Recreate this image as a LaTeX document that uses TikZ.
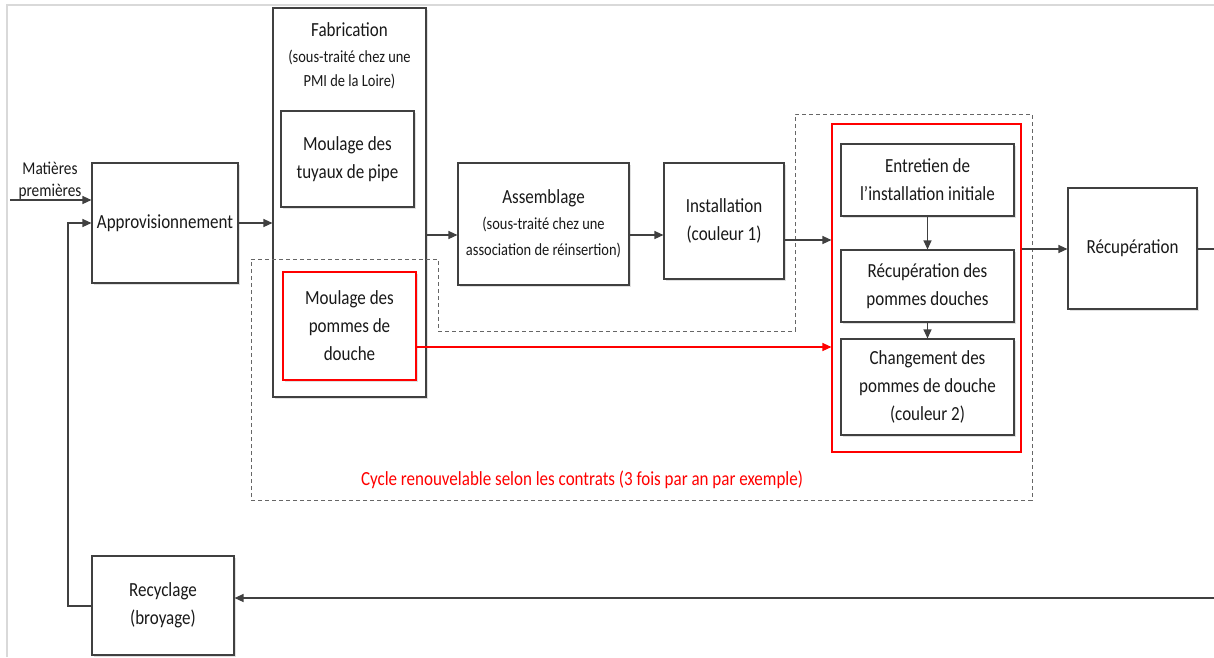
\documentclass[tikz,border=0pt]{standalone}
\usepackage{fontspec}
\setmainfont{Carlito}[FakeStretch=0.85]
\usetikzlibrary{arrows.meta,calc,shadows}
\definecolor{ln}{HTML}{404040}
\definecolor{rd}{HTML}{FF0000}
\tikzset{
  box/.style={draw=ln, line width=1.1pt, fill=white, align=center, inner sep=0pt,
     font=\fontsize{20}{28}\selectfont, text=black!90,
     drop shadow={shadow xshift=2pt, shadow yshift=-2pt, fill=black!12, opacity=1}},
  redbox/.style={draw=rd, line width=1.1pt, inner sep=0pt},
  arr/.style={draw=ln, line width=1.2pt, -{Triangle[length=9pt,width=8pt]}},
  rarr/.style={draw=rd, line width=1.2pt, -{Triangle[length=9pt,width=8pt]}},
  plain/.style={draw=ln, line width=1.2pt},
  dashline/.style={draw=ln!80, line width=0.9pt, dash pattern=on 4pt off 3pt},
  small/.style={font=\fontsize{17}{24}\selectfont, align=center, text=black!90},
}
\begin{document}
\begin{tikzpicture}[x=1pt,y=-1pt]
\useasboundingbox (0,0) rectangle (1214,657);
% faint frame
\draw[gray!30, line width=1.5pt] (7,657) -- (7,5) -- (1214,5);

% boxes
\node[box, minimum width=146pt, minimum height=120pt] (appro) at (165,223) {Approvisionnement};
\node[box, minimum width=153pt, minimum height=389pt] (fab) at (349.5,202.5) {};
\node[font=\fontsize{20}{28}\selectfont, text=black!90] (fabt) at (349.5,30) {Fabrication};
\node[small] (fabs) at (349.5,69) {(sous-trait\'e chez une\\PMI de la Loire)};
\node[box, minimum width=133pt, minimum height=96pt] (tuy) at (347.5,159) {Moulage des\\tuyaux de pipe};
\node[box, draw=rd, minimum width=133pt, minimum height=108pt] (pom) at (349.5,326) {Moulage des\\pommes de\\douche};
\node[box, minimum width=171pt, minimum height=122pt, font=\fontsize{17}{26}\selectfont] (ass) at (543.5,224)
  {{\fontsize{20}{26}\selectfont Assemblage}\\(sous-trait\'e chez une\\association de r\'einsertion)};
\node[box, minimum width=120pt, minimum height=116pt] (ins) at (724,221) {Installation\\(couleur 1)};
\node[redbox, minimum width=189pt, minimum height=328pt] (cyc) at (926.5,288) {};
\node[box, minimum width=173pt, minimum height=72pt] (ent) at (927.5,180) {Entretien de\\l’installation initiale};
\node[box, minimum width=173pt, minimum height=72pt] (rec2) at (927.5,286) {R\'ecup\'eration des\\pommes douches};
\node[box, minimum width=173pt, minimum height=96pt] (chg) at (927.5,387) {Changement des\\pommes de douche\\(couleur 2)};
\node[box, minimum width=129pt, minimum height=121pt] (rec) at (1132.5,248.5) {R\'ecup\'eration};
\node[box, minimum width=142pt, minimum height=99pt] (recy) at (163,605.5) {Recyclage\\(broyage)};

\node[font=\fontsize{18}{22}\selectfont, align=center, text=black!90] (mp) at (50,181) {Mati\`eres\\premi\`eres};
\node[font=\fontsize{20}{24}\selectfont, text=rd] (cyct) at (582,480) {Cycle renouvelable selon les contrats (3 fois par an par exemple)};

% dashed cycle outline
\draw[dashline] (251,259) -- (438,259) -- (438,331) -- (795,331) -- (795,114) -- (1032,114)
  -- (1032,500) -- (251,500) -- cycle;

% helper coordinates
\coordinate (in0) at (10,200);
\coordinate (y235) at (0,235);
\coordinate (y240) at (0,240);
\coordinate (y347) at (0,347);
\coordinate (y249) at (0,249);
\coordinate (outR) at (1214,249);
\coordinate (inR) at (1214,598);
\coordinate (c1) at (68,606);
\coordinate (c2) at (68,223);

% connectors
\draw[arr] (in0) -- (in0 -| appro.west);
\draw[arr] (appro.east) -- (appro.east -| fab.west);
\draw[arr] (fab.east |- y235) -- (ass.west |- y235);
\draw[arr] (ass.east |- y235) -- (ins.west |- y235);
\draw[arr] (ins.east |- y240) -- (cyc.west |- y240);
\draw[arr] (ent.south) -- (rec2.north);
\draw[arr] (rec2.south) -- (chg.north);
\draw[rarr] (pom.east |- y347) -- (cyc.west |- y347);
\draw[arr] (cyc.east |- y249) -- (rec.west |- y249);
\draw[plain] (rec.east |- y249) -- (outR);
\draw[arr] (inR) -- (inR -| recy.east);
\draw[arr] (recy.west |- c1) -- (c1) -- (c2) -- (c2 -| appro.west);
\end{tikzpicture}
\end{document}
